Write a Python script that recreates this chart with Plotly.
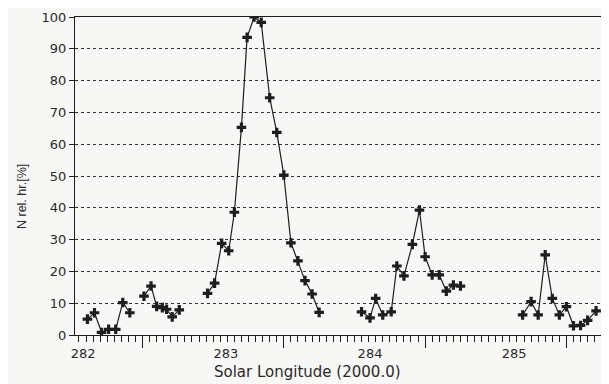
import plotly.graph_objects as go

# Solar longitude (deg, J2000.0) of each hourly-rate point; None marks a gap in the record
longitude = [
    282.11, 282.16, 282.21, 282.26, 282.31, 282.36, 282.41, None,
    282.51, 282.56, 282.60, 282.64, 282.67, 282.71, 282.76, None,
    282.96, 283.01, 283.06, 283.11, 283.15, 283.20, 283.24, 283.29, 283.34,
    283.40, 283.45, 283.50, 283.55, 283.60, 283.65, 283.70, 283.75, None,
    284.05, 284.11, 284.15, 284.20, 284.26, 284.30, 284.35, 284.41, 284.46,
    284.50, 284.55, 284.60, 284.65, 284.70, 284.75, None,
    285.19, 285.25, 285.30, 285.35, 285.40, 285.45, 285.50, 285.55, 285.60,
    285.65, 285.71,
]
rel_rate = [
    5.0, 7.0, 0.8, 1.8, 1.8, 10.2, 7.0, None,
    12.2, 15.4, 9.0, 8.6, 8.1, 5.7, 7.9, None,
    13.1, 16.3, 28.8, 26.5, 38.6, 65.3, 93.6, 100.0, 98.3,
    74.6, 63.7, 50.3, 29.0, 23.3, 17.1, 12.9, 7.1, None,
    7.3, 5.4, 11.5, 6.3, 7.3, 21.7, 18.6, 28.5, 39.3,
    24.6, 18.9, 18.9, 13.8, 15.7, 15.4, None,
    6.3, 10.5, 6.3, 25.2, 11.5, 6.3, 8.9, 2.9, 3.0,
    4.6, 7.6,
]

x_major_ticks = [282.5, 283.5, 284.5, 285.5]
# where the printed longitude labels sit along the axis
x_label_pos = [282.08, 283.09, 284.11, 285.13]
x_label_text = ["282", "283", "284", "285"]
y_tick_vals = [0, 10, 20, 30, 40, 50, 60, 70, 80, 90, 100]

x_range = [282.022, 285.766]
ink = "#1e1e1e"
txt = "#2a2a2a"
bg = "#f7f7f5"

fig = go.Figure()
fig.add_trace(go.Scatter(
    x=longitude, y=rel_rate, mode="lines+markers",
    line=dict(color=ink, width=1.2),
    marker=dict(symbol="cross", size=8, color=ink, line=dict(width=0)),
    connectgaps=False, showlegend=False, hoverinfo="x+y",
))
# invisible trace so the label axis is drawn
fig.add_trace(go.Scatter(x=x_range, y=[None, None], xaxis="x2",
                         showlegend=False, hoverinfo="skip"))

# the page body adds an 8px offset, so the figure is sized 8px smaller
fig.update_layout(
    width=601, height=376,
    margin=dict(l=67, r=5, t=9, b=49),
    paper_bgcolor=bg, plot_bgcolor=bg,
    font=dict(family="DejaVu Sans", size=13, color=txt),
    xaxis=dict(
        range=x_range, tickvals=x_major_ticks, showticklabels=False,
        ticks="outside", ticklen=12, tickwidth=1.2, tickcolor=ink,
        minor=dict(dtick=0.05, tick0=282.0, ticks="outside", ticklen=6,
                   tickwidth=1, tickcolor=ink, showgrid=False),
        showgrid=False, zeroline=False, automargin=False,
        showline=True, linecolor=ink, linewidth=1.3, mirror=True,
    ),
    xaxis2=dict(
        overlaying="x", side="bottom", range=x_range, automargin=False,
        tickvals=x_label_pos, ticktext=x_label_text,
        ticks="outside", ticklen=6, tickcolor="rgba(0,0,0,0)",
        showgrid=False, zeroline=False, showline=False,
        tickfont=dict(family="DejaVu Sans", size=13, color=txt),
    ),
    yaxis=dict(
        range=[0, 100], tickvals=y_tick_vals, automargin=False,
        ticks="outside", ticklen=5, tickwidth=1, tickcolor=ink,
        showgrid=True, gridcolor="#333333", gridwidth=1, griddash="dot",
        zeroline=False,
        showline=True, linecolor=ink, linewidth=1.3, mirror=True,
        tickfont=dict(family="DejaVu Sans", size=13, color=txt),
    ),
    annotations=[
        dict(text="Solar Longitude (2000.0)", xref="paper", yref="paper",
             x=0.4386, y=-0.116, xanchor="center", yanchor="middle",
             showarrow=False, font=dict(family="DejaVu Sans", size=15, color=txt)),
        dict(text="N rel. hr.[%]", xref="paper", yref="paper",
             x=-0.1002, y=0.437, xanchor="center", yanchor="middle", textangle=-90,
             showarrow=False, font=dict(family="Liberation Sans", size=12.5, color=txt)),
    ],
)

fig.write_html("out.html")
